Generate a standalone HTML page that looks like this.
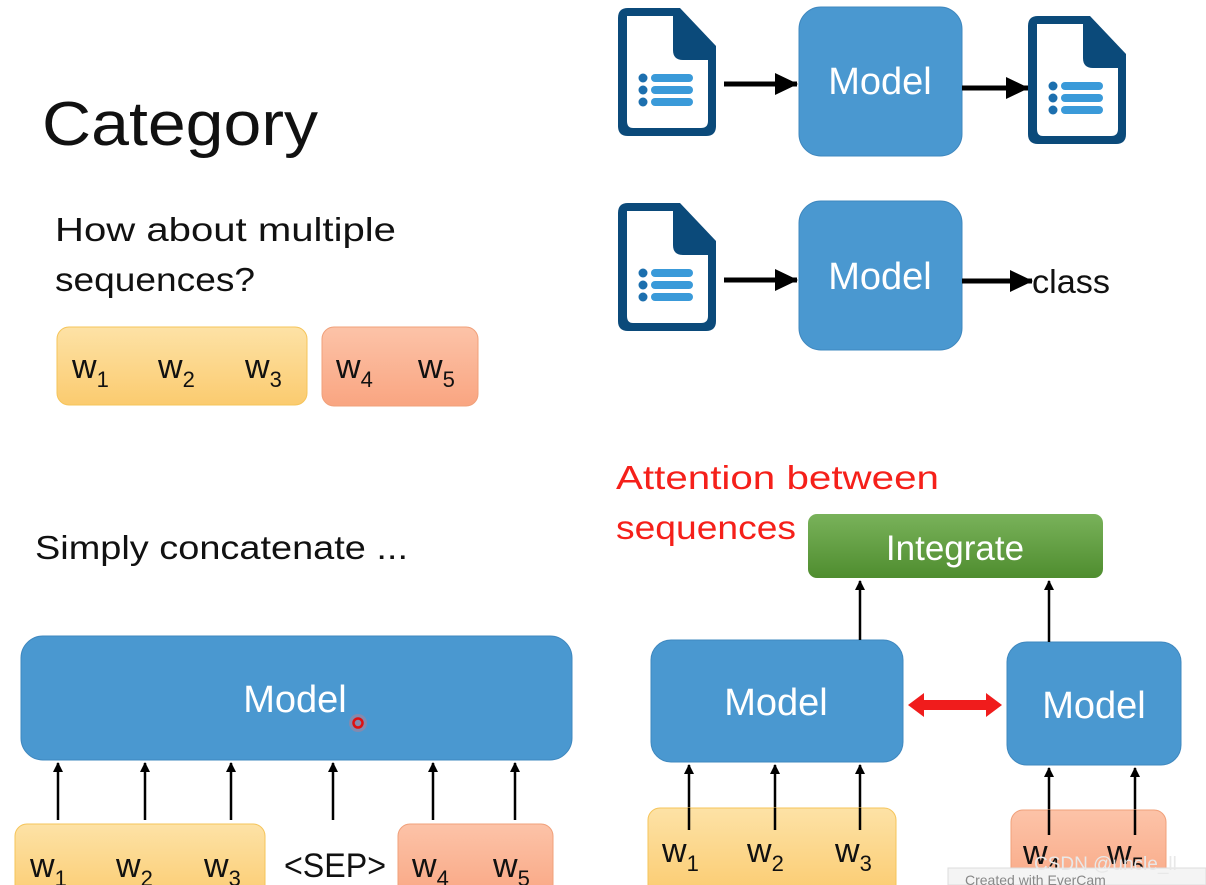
<!DOCTYPE html>
<html><head><meta charset="utf-8"><style>
html,body{margin:0;padding:0;background:#fff;}
svg{display:block;font-family:"Liberation Sans",sans-serif;}
</style></head><body>
<svg width="1206" height="885" viewBox="0 0 1206 885" xmlns="http://www.w3.org/2000/svg">
<defs>
<linearGradient id="yel" x1="0" y1="0" x2="0" y2="1"><stop offset="0" stop-color="#fde2a6"/><stop offset="1" stop-color="#fbcb6f"/></linearGradient>
<linearGradient id="org" x1="0" y1="0" x2="0" y2="1"><stop offset="0" stop-color="#fcc3a8"/><stop offset="1" stop-color="#f9a581"/></linearGradient>
<linearGradient id="grn" x1="0" y1="0" x2="0" y2="1"><stop offset="0" stop-color="#79b25a"/><stop offset="1" stop-color="#4f8d2f"/></linearGradient>
<marker id="ah" markerWidth="10" markerHeight="10" refX="9" refY="5" orient="auto" markerUnits="userSpaceOnUse"><path d="M0,0 L10,5 L0,10 Z" fill="#000"/></marker>
<marker id="big" markerWidth="24" markerHeight="24" refX="22" refY="12" orient="auto" markerUnits="userSpaceOnUse"><path d="M0,1 L23,12 L0,23 Z" fill="#000"/></marker>
<g id="doc">
<path d="M10,0 H62 L98,38 V118 Q98,128 88,128 H10 Q0,128 0,118 V10 Q0,0 10,0 Z" fill="#0b4a7a"/>
<path d="M9,8 H55 V42 Q55,52 65,52 H90 V113 Q90,120 83,120 H15 Q9,120 9,113 Z" fill="#fff"/>
<circle cx="25" cy="70" r="4.5" fill="#1c6fae"/><circle cx="25" cy="82" r="4.5" fill="#1c6fae"/><circle cx="25" cy="94" r="4.5" fill="#1c6fae"/>
<rect x="33" y="66" width="42" height="8" rx="4" fill="#3a9ad9"/><rect x="33" y="78" width="42" height="8" rx="4" fill="#3a9ad9"/><rect x="33" y="90" width="42" height="8" rx="4" fill="#3a9ad9"/>
</g>
</defs>

<text x="42" y="145" font-size="62" fill="#111" textLength="276" lengthAdjust="spacingAndGlyphs">Category</text>
<text x="55" y="241" font-size="33" fill="#111" textLength="341" lengthAdjust="spacingAndGlyphs">How about multiple</text>
<text x="55" y="291" font-size="33" fill="#111" textLength="200" lengthAdjust="spacingAndGlyphs">sequences?</text>

<rect x="57" y="327" width="250" height="78" rx="12" fill="url(#yel)" stroke="#f5c45a"/>
<rect x="322" y="327" width="156" height="79" rx="12" fill="url(#org)" stroke="#f0a07a"/>
<g font-size="34" fill="#111">
<text x="72" y="378">w<tspan font-size="22" dy="9">1</tspan></text>
<text x="158" y="378">w<tspan font-size="22" dy="9">2</tspan></text>
<text x="245" y="378">w<tspan font-size="22" dy="9">3</tspan></text>
<text x="336" y="378">w<tspan font-size="22" dy="9">4</tspan></text>
<text x="418" y="378">w<tspan font-size="22" dy="9">5</tspan></text>
</g>

<!-- top right -->
<use href="#doc" x="618" y="8"/>
<rect x="799" y="7" width="163" height="149" rx="22" fill="#4a98d0" stroke="#3f88bf"/>
<text x="880" y="94" font-size="38" fill="#fff" text-anchor="middle">Model</text>
<line x1="724" y1="84" x2="797" y2="84" stroke="#000" stroke-width="5" marker-end="url(#big)"/>
<line x1="962" y1="88" x2="1028" y2="88" stroke="#000" stroke-width="5" marker-end="url(#big)"/>
<use href="#doc" x="1028" y="16"/>

<use href="#doc" x="618" y="203"/>
<rect x="799" y="201" width="163" height="149" rx="22" fill="#4a98d0" stroke="#3f88bf"/>
<text x="880" y="289" font-size="38" fill="#fff" text-anchor="middle">Model</text>
<line x1="724" y1="280" x2="797" y2="280" stroke="#000" stroke-width="5" marker-end="url(#big)"/>
<line x1="962" y1="281" x2="1032" y2="281" stroke="#000" stroke-width="5" marker-end="url(#big)"/>
<text x="1032" y="293" font-size="33" fill="#111" textLength="78" lengthAdjust="spacingAndGlyphs">class</text>

<!-- attention -->
<text x="616" y="489" font-size="33" fill="#f5201a" textLength="323" lengthAdjust="spacingAndGlyphs">Attention between</text>
<text x="616" y="539" font-size="33" fill="#f5201a" textLength="180" lengthAdjust="spacingAndGlyphs">sequences</text>
<rect x="808" y="514" width="295" height="64" rx="9" fill="url(#grn)"/>
<text x="955" y="560" font-size="35" fill="#fff" text-anchor="middle">Integrate</text>

<text x="35" y="559" font-size="33" fill="#111" textLength="373" lengthAdjust="spacingAndGlyphs">Simply concatenate ...</text>

<!-- bottom left -->
<rect x="21" y="636" width="551" height="124" rx="22" fill="#4a98d0" stroke="#3f88bf"/>
<text x="295" y="712" font-size="38" fill="#fff" text-anchor="middle">Model</text>
<circle cx="358" cy="723" r="9" fill="#f07070" opacity="0.35"/>
<circle cx="358" cy="723" r="4.5" fill="none" stroke="#e01010" stroke-width="2.5"/>
<g stroke="#000" stroke-width="2.5">
<line x1="58" y1="820" x2="58" y2="763" marker-end="url(#ah)"/>
<line x1="145" y1="820" x2="145" y2="763" marker-end="url(#ah)"/>
<line x1="231" y1="820" x2="231" y2="763" marker-end="url(#ah)"/>
<line x1="333" y1="820" x2="333" y2="763" marker-end="url(#ah)"/>
<line x1="433" y1="820" x2="433" y2="763" marker-end="url(#ah)"/>
<line x1="515" y1="820" x2="515" y2="763" marker-end="url(#ah)"/>
</g>
<rect x="15" y="824" width="250" height="80" rx="12" fill="url(#yel)" stroke="#f5c45a"/>
<rect x="398" y="824" width="155" height="80" rx="12" fill="url(#org)" stroke="#f0a07a"/>
<g font-size="34" fill="#111">
<text x="30" y="877">w<tspan font-size="22" dy="9">1</tspan></text>
<text x="116" y="877">w<tspan font-size="22" dy="9">2</tspan></text>
<text x="204" y="877">w<tspan font-size="22" dy="9">3</tspan></text>
<text x="284" y="877" textLength="102" lengthAdjust="spacingAndGlyphs">&lt;SEP&gt;</text>
<text x="412" y="877">w<tspan font-size="22" dy="9">4</tspan></text>
<text x="493" y="877">w<tspan font-size="22" dy="9">5</tspan></text>
</g>

<!-- bottom right -->
<rect x="651" y="640" width="252" height="122" rx="20" fill="#4a98d0" stroke="#3f88bf"/>
<text x="776" y="715" font-size="38" fill="#fff" text-anchor="middle">Model</text>
<rect x="1007" y="642" width="174" height="123" rx="20" fill="#4a98d0" stroke="#3f88bf"/>
<text x="1094" y="718" font-size="38" fill="#fff" text-anchor="middle">Model</text>
<path d="M908,705 L924,693 L924,700 L986,700 L986,693 L1002,705 L986,717 L986,710 L924,710 L924,717 Z" fill="#f01c1c"/>
<g stroke="#000" stroke-width="2.5">
<line x1="860" y1="640" x2="860" y2="581" marker-end="url(#ah)"/>
<line x1="1049" y1="642" x2="1049" y2="581" marker-end="url(#ah)"/>
<line x1="689" y1="808" x2="689" y2="765" marker-end="url(#ah)"/>
<line x1="775" y1="808" x2="775" y2="765" marker-end="url(#ah)"/>
<line x1="860" y1="808" x2="860" y2="765" marker-end="url(#ah)"/>
<line x1="1049" y1="810" x2="1049" y2="768" marker-end="url(#ah)"/>
<line x1="1135" y1="810" x2="1135" y2="768" marker-end="url(#ah)"/>
</g>
<rect x="648" y="808" width="248" height="90" rx="12" fill="url(#yel)" stroke="#f5c45a"/>
<rect x="1011" y="810" width="155" height="90" rx="12" fill="url(#org)" stroke="#f0a07a"/>
<line x1="689" y1="808" x2="689" y2="830" stroke="#000" stroke-width="2.5"/>
<line x1="775" y1="808" x2="775" y2="830" stroke="#000" stroke-width="2.5"/>
<line x1="860" y1="808" x2="860" y2="830" stroke="#000" stroke-width="2.5"/>
<line x1="1049" y1="810" x2="1049" y2="835" stroke="#000" stroke-width="2.5"/>
<line x1="1135" y1="810" x2="1135" y2="835" stroke="#000" stroke-width="2.5"/>
<g font-size="34" fill="#111">
<text x="662" y="862">w<tspan font-size="22" dy="9">1</tspan></text>
<text x="747" y="862">w<tspan font-size="22" dy="9">2</tspan></text>
<text x="835" y="862">w<tspan font-size="22" dy="9">3</tspan></text>
<text x="1023" y="864">w<tspan font-size="22" dy="9">4</tspan></text>
<text x="1107" y="864">w<tspan font-size="22" dy="9">5</tspan></text>
</g>
<rect x="948" y="868" width="258" height="17" fill="#f4f4f4" stroke="#ddd"/>
<text x="1034" y="870" font-size="19" fill="#e8e8e8">CSDN @uncle_ll</text>
<text x="965" y="885" font-size="14" fill="#888">Created with EverCam</text>
</svg>
</body></html>
